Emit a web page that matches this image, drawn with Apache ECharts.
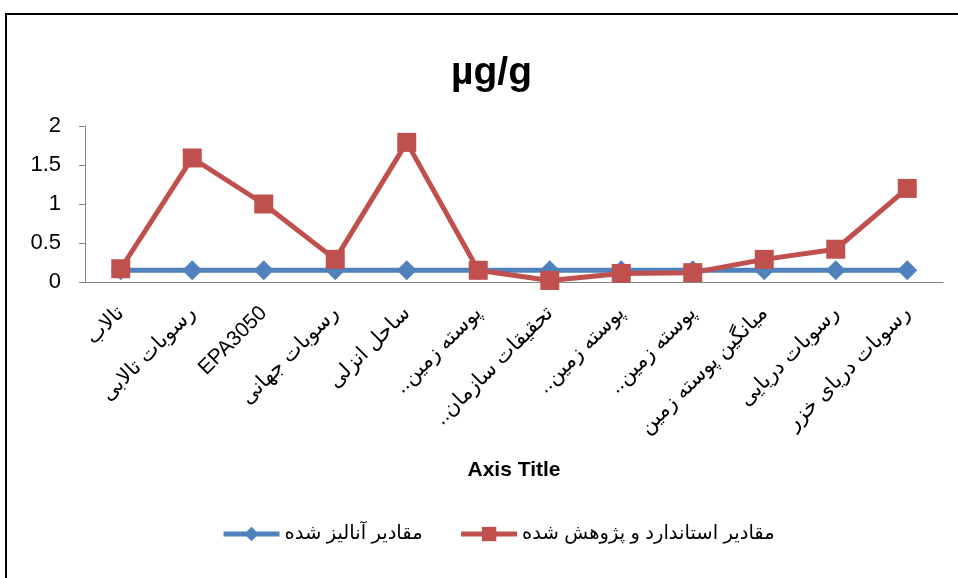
<!DOCTYPE html>
<html><head><meta charset="utf-8">
<script src="https://cdn.jsdelivr.net/npm/echarts@6/dist/echarts.min.js"></script>
<style>html,body{margin:0;padding:0;background:#fff}#c{width:958px;height:578px}</style>
</head><body><div id="c"></div>
<script>
const categories = ['تالاب','رسوبات تالابی','EPA3050','رسوبات جهانی','ساحل انزلی','پوسته زمین..','تحقیقات سازمان..','پوسته زمین..','پوسته زمین..','میانگین پوسته زمین','رسوبات دریایی','رسوبات دریای خزر'];
const analyzed = [0.15,0.15,0.15,0.15,0.15,0.15,0.15,0.15,0.15,0.15,0.15,0.15];
const standard = [0.17,1.59,1.0,0.29,1.79,0.15,0.02,0.11,0.12,0.29,0.42,1.2];
const yTicks = [0,0.5,1,1.5,2];
const seriesNames = ['مقادیر آنالیز شده','مقادیر استاندارد و پژوهش شده'];

const chart = echarts.init(document.getElementById('c'));
const font = '"Liberation Sans","DejaVu Sans",sans-serif';
const isRTL = s => /[\u0600-\u06FF]/.test(s);
chart.setOption({
  animation:false,
  textStyle:{fontFamily:font},
  title:{text:'µg/g',left:446,top:49,textStyle:{fontSize:39,fontWeight:'bold',color:'#000',fontFamily:font}},
  graphic:[{type:'rect',shape:{x:6,y:14,width:1000,height:1000},style:{fill:'none',stroke:'#000',lineWidth:2},silent:true}],
  legend:{top:519,left:216,itemWidth:56,itemHeight:18,itemGap:36,
    lineStyle:{width:5},
    formatter:n=>isRTL(n)?n+'\u200F':n,
    textStyle:{fontSize:19.5,color:'#000',fontFamily:font},data:seriesNames},
  grid:{left:85,right:15,top:126,bottom:296},
  xAxis:{type:'category',data:categories,name:'Axis Title',nameLocation:'middle',nameGap:178,
    nameTextStyle:{fontSize:21,fontWeight:'bold',color:'#000',fontFamily:font},
    axisLine:{lineStyle:{color:'#868686',width:1}},axisTick:{length:7,lineStyle:{color:'#868686'}},
    axisLabel:{rotate:45,fontSize:21,color:'#000',margin:28,interval:0,
      formatter:v=>isRTL(v)?v+'\u200F':v}},
  yAxis:{type:'value',min:yTicks[0],max:yTicks[yTicks.length-1],interval:0.5,
    axisLine:{show:true,lineStyle:{color:'#868686',width:1}},axisTick:{show:true,length:6,lineStyle:{color:'#868686'}},
    splitLine:{show:false},axisLabel:{fontSize:22,color:'#000',margin:24}},
  series:[
    {name:seriesNames[0],type:'line',data:analyzed,symbol:'diamond',symbolSize:20,
     lineStyle:{width:5,color:'#4F81BD'},itemStyle:{color:'#4F81BD'}},
    {name:seriesNames[1],type:'line',data:standard,symbol:'rect',symbolSize:19,
     lineStyle:{width:5,color:'#C0504D'},itemStyle:{color:'#C0504D'}}
  ]
});
</script></body></html>
